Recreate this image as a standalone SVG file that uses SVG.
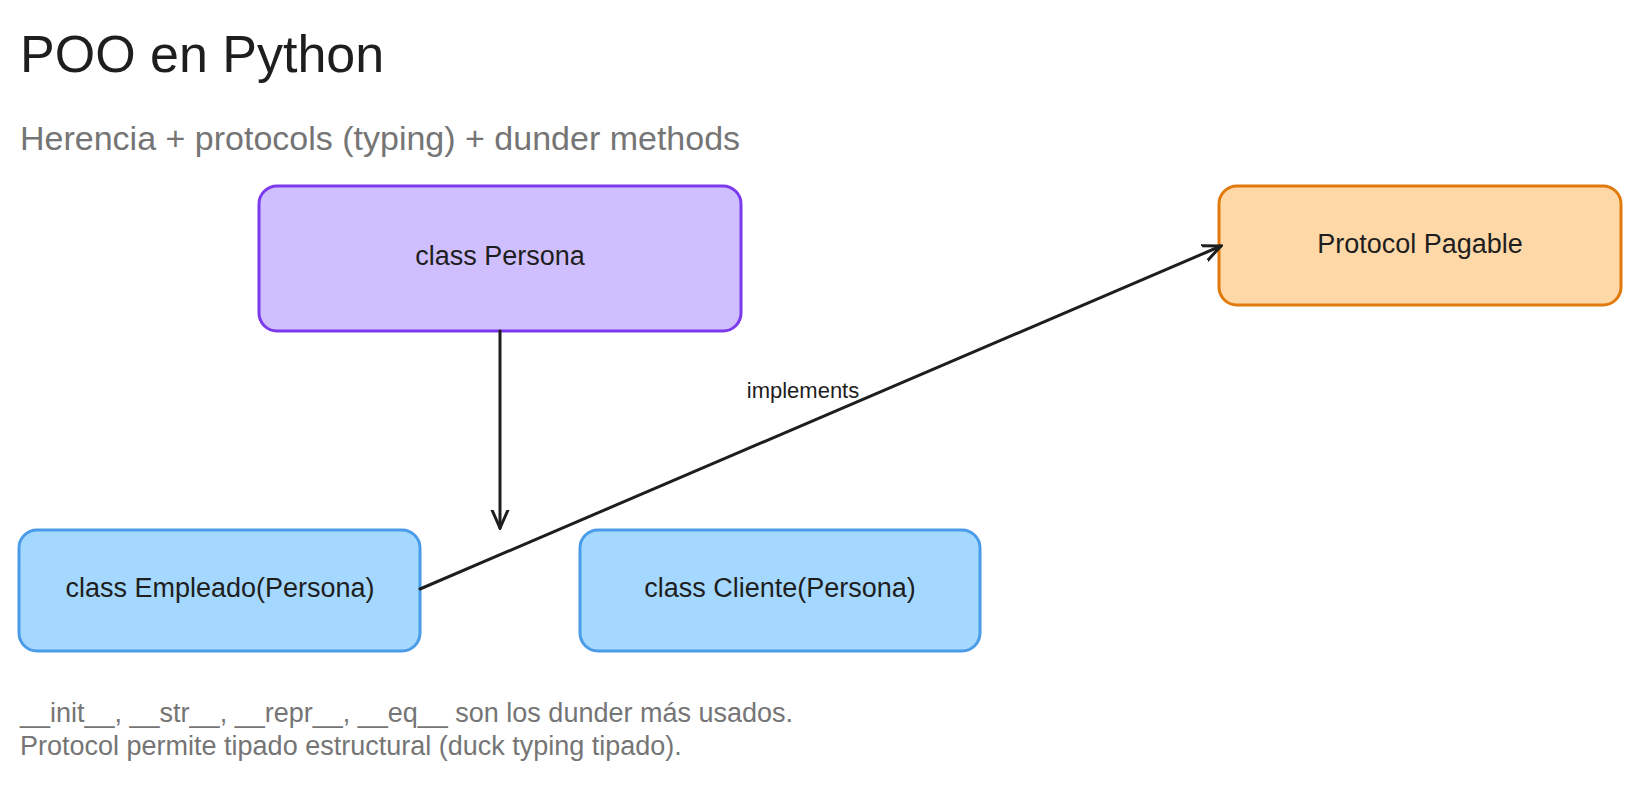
<svg xmlns="http://www.w3.org/2000/svg" width="1640" height="785" viewBox="0 0 1640 785">
<style>
text{font-family:"Liberation Sans",Arial,sans-serif;fill:#1e1e1e}
.box{stroke-width:3}
.lbl{font-size:27px;text-anchor:middle;dominant-baseline:middle}
.c{stroke:#1e1e1e;stroke-width:3;fill:none;stroke-linecap:round}
.note{font-size:27px;fill:#757575}
</style>
<defs><marker id="ah" viewBox="0 0 20 20" refX="18" refY="10" markerWidth="20" markerHeight="20" markerUnits="userSpaceOnUse" orient="auto"><path d="M0,2 L18,10 L0,18" fill="none" stroke="#1e1e1e" stroke-width="3" stroke-linecap="round"/></marker></defs>
<rect width="1640" height="785" fill="#fff"/>
<text x="20" y="72" font-size="52">POO en Python</text>
<text x="20" y="150" font-size="34" style="fill:#757575">Herencia + protocols (typing) + dunder methods</text>
<g id="persona"><rect class="box" x="259" y="186" width="482" height="145" rx="18" fill="#d0bfff" stroke="#7c3aed"/><text class="lbl" x="500" y="258">class Persona</text></g>
<g id="pagable"><rect class="box" x="1219" y="186" width="402" height="119" rx="18" fill="#ffd8a8" stroke="#e07a0c"/><text class="lbl" x="1420" y="246">Protocol Pagable</text></g>
<g id="empleado"><rect class="box" x="19" y="530" width="401" height="121" rx="18" fill="#a5d8ff" stroke="#4a9be8"/><text class="lbl" x="220" y="590">class Empleado(Persona)</text></g>
<g id="cliente"><rect class="box" x="580" y="530" width="400" height="121" rx="18" fill="#a5d8ff" stroke="#4a9be8"/><text class="lbl" x="780" y="590">class Cliente(Persona)</text></g>
<g id="connectors">
<line class="c" x1="500" y1="331" x2="500" y2="528" marker-end="url(#ah)"/>
<line class="c" x1="420" y1="589" x2="1221" y2="246" marker-end="url(#ah)"/>
<text x="803" y="392" font-size="22" text-anchor="middle" dominant-baseline="middle">implements</text>
</g>
<text class="note" x="20" y="722">__init__, __str__, __repr__, __eq__ son los dunder más usados.</text>
<text class="note" x="20" y="755">Protocol permite tipado estructural (duck typing tipado).</text>
</svg>
